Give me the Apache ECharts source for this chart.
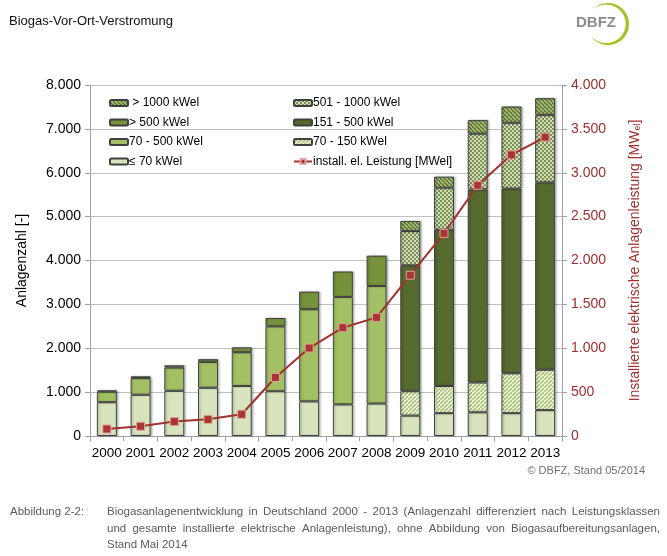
<!DOCTYPE html>
<html>
<head>
<meta charset="utf-8">
<script src="https://cdn.jsdelivr.net/npm/echarts@6/dist/echarts.min.js"></script>
<style>
html,body{margin:0;padding:0;background:#fff;}
#chart{width:667px;height:556px;}
</style>
</head>
<body>
<div id="chart"></div>
<script>
// ---- data ----
const years = ['2000','2001','2002','2003','2004','2005','2006','2007','2008','2009','2010','2011','2012','2013'];
const le70      = [770, 940, 1030, 1100, 1140, 1020, 790, 720, 740, 465, 520, 540, 520, 590];
const k70_500   = [240, 380, 530, 590, 770, 1480, 2100, 2450, 2680, '-', '-', '-', '-', '-'];
const gt500     = [30, 40, 50, 60, 110, 190, 400, 580, 690, '-', '-', '-', '-', '-'];
const k70_150   = ['-', '-', '-', '-', '-', '-', '-', '-', '-', 555, 620, 680, 910, 920];
const k151_500  = ['-', '-', '-', '-', '-', '-', '-', '-', '-', 2870, 3560, 4400, 4210, 4270];
const k501_1000 = ['-', '-', '-', '-', '-', '-', '-', '-', '-', 780, 960, 1270, 1500, 1540];
const gt1000    = ['-', '-', '-', '-', '-', '-', '-', '-', '-', 230, 250, 310, 370, 380];
const leistung  = [80, 111, 164, 190, 248, 667, 1002, 1234, 1352, 1832, 2309, 2857, 3204, 3406];
const leftAxisMax = 8000, leftAxisInterval = 1000;
const rightAxisMax = 4000, rightAxisInterval = 500;

const names = {
  le70: '≤ 70 kWel', k70_500: '70 - 500 kWel', gt500: '> 500 kWel',
  k70_150: '70 - 150 kWel', k151_500: '151 - 500 kWel', k501_1000: '501 - 1000 kWel',
  gt1000: ' > 1000 kWel', line: 'install. el. Leistung [MWel]'
};

// ---- patterns ----
function stripes(bg, fg, dir, size, lw) {
  const c = document.createElement('canvas');
  c.width = c.height = size;
  const g = c.getContext('2d');
  g.fillStyle = bg; g.fillRect(0, 0, size, size);
  g.strokeStyle = fg; g.lineWidth = lw;
  for (let k = -1; k <= 1; k++) {
    g.beginPath();
    if (dir === '/') { g.moveTo(k * size, size); g.lineTo(k * size + size, 0); }
    else { g.moveTo(k * size, 0); g.lineTo(k * size + size, size); }
    g.stroke();
  }
  return c;
}
function checker(a, b) {
  const c = document.createElement('canvas');
  c.width = c.height = 4;
  const g = c.getContext('2d');
  g.fillStyle = a; g.fillRect(0, 0, 4, 4);
  g.fillStyle = b; g.fillRect(0, 0, 2, 2); g.fillRect(2, 2, 2, 2);
  return c;
}
const pat70_150 = { image: stripes('#ffffff', '#adc874', '/', 4, 1.8), repeat: 'repeat' };
const pat501_1000 = { image: checker('#d3dcbd', '#7c9250'), repeat: 'repeat' };
const pat1000 = { image: stripes('#5a6f2f', '#a8c07a', '\\', 4, 1.6), repeat: 'repeat' };

const fmt = v => String(v).replace(/\B(?=(\d{3})+(?!\d))/g, '.');
const FONT = '"Liberation Sans", Arial, sans-serif';
const RED = '#a0312f';

const barBase = {
  type: 'bar', stack: 'total', barWidth: 20,
  itemStyle: { borderColor: '#404040', borderWidth: 1,
    shadowColor: 'rgba(0,0,0,0.25)', shadowBlur: 2, shadowOffsetX: 1.5, shadowOffsetY: 0 },
  emphasis: { disabled: true }
};
function bar(name, data, color) {
  return Object.assign({}, barBase, { name, data,
    itemStyle: Object.assign({}, barBase.itemStyle, { color }) });
}

// ---- caption with justified lines ----
const measCtx = document.createElement('canvas').getContext('2d');
function justified(text, x0, x1, yc, size, color, justify) {
  const els = [];
  let fs = size;
  const words = text.split(' ');
  let widths, total;
  while (true) {
    measCtx.font = fs + 'px ' + FONT;
    widths = words.map(w => measCtx.measureText(w).width);
    total = widths.reduce((a, b) => a + b, 0);
    const minSpace = measCtx.measureText(' ').width * 0.8;
    if (!justify || total + minSpace * (words.length - 1) <= x1 - x0 || fs < 8) break;
    fs -= 0.25;
  }
  let gap = justify ? (x1 - x0 - total) / (words.length - 1) : measCtx.measureText(' ').width;
  let x = x0;
  words.forEach((w, i) => {
    els.push({ type: 'text', x: x, y: yc, style: { text: w, font: fs + 'px ' + FONT, fill: color, verticalAlign: 'middle' } });
    x += widths[i] + gap;
  });
  return els;
}
const capColor = '#5a5a5a';
const captionEls = []
  .concat([{ type: 'text', x: 10, y: 512, style: { text: 'Abbildung 2-2:', font: '11.5px ' + FONT, fill: capColor, verticalAlign: 'middle' } }])
  .concat(justified('Biogasanlagenentwicklung in Deutschland 2000 - 2013 (Anlagenzahl differenziert nach Leistungsklassen', 107, 660, 512, 11.5, capColor, true))
  .concat(justified('und gesamte installierte elektrische Anlagenleistung), ohne Abbildung von Biogasaufbereitungsanlagen,', 107, 660, 529, 11.5, capColor, true))
  .concat(justified('Stand Mai 2014', 107, 660, 545, 11.5, capColor, false));

// ---- logo crescent ----
const logoPts = [];
(function () {
  const cx = 608, cy = 24, r = 21, a0 = -131, a1 = 141, n = 40;
  for (let i = 0; i <= n; i++) {
    const a = (a0 + (a1 - a0) * i / n) * Math.PI / 180;
    logoPts.push([cx + r * Math.cos(a), cy + r * Math.sin(a)]);
  }
  for (let i = n; i >= 0; i--) {
    const t = i / n, a = (a0 + (a1 - a0) * t) * Math.PI / 180;
    const w = 0.3 + 3 * Math.sin(Math.PI * t);
    logoPts.push([cx + (r - w) * Math.cos(a), cy + (r - w) * Math.sin(a)]);
  }
})();

const chart = echarts.init(document.getElementById('chart'), null, { renderer: 'canvas' });
const legendText = { fontFamily: FONT, fontSize: 12, color: '#000', lineHeight: 16, padding: [0, 0, 0, -4] };
chart.setOption({
  animation: false,
  backgroundColor: '#ffffff',
  textStyle: { fontFamily: FONT },
  grid: { left: 90, right: 105, top: 85, bottom: 120, containLabel: false },
  legend: [
    { orient: 'vertical', left: 104, top: 90, itemWidth: 18, itemHeight: 6, itemGap: 3.5,
      textStyle: legendText, selectedMode: false,
      data: [names.gt1000, names.gt500, names.k70_500, names.le70] },
    { orient: 'vertical', left: 288, top: 90, itemWidth: 18, itemHeight: 6, itemGap: 3.5,
      textStyle: legendText, selectedMode: false,
      data: [names.k501_1000, names.k151_500, names.k70_150, names.line] }
  ],
  xAxis: {
    type: 'category', data: years,
    axisLine: { lineStyle: { color: '#a0a0a0' } },
    axisTick: { show: true, length: 5, lineStyle: { color: '#a0a0a0' } },
    axisLabel: { color: '#000', fontSize: 13.5, margin: 10, interval: 0 }
  },
  yAxis: [
    { type: 'value', min: 0, max: leftAxisMax, interval: leftAxisInterval,
      name: 'Anlagenzahl [-]', nameLocation: 'middle', nameGap: 61, nameRotate: 90,
      nameTextStyle: { color: '#000', fontSize: 14 },
      axisLine: { show: true, lineStyle: { color: '#a0a0a0' } },
      axisTick: { show: true, length: 5, lineStyle: { color: '#a0a0a0' } },
      axisLabel: { color: '#000', fontSize: 14, margin: 9, formatter: fmt },
      splitLine: { lineStyle: { color: '#c0c0c0' } } },
    { type: 'value', min: 0, max: rightAxisMax, interval: rightAxisInterval, position: 'right',
      name: 'Installierte elektrische Anlagenleistung [MW{sub|el}]', nameLocation: 'middle', nameGap: 66, nameRotate: 90,
      nameTextStyle: { color: RED, fontSize: 14, rich: { sub: { fontSize: 9, color: RED, verticalAlign: 'bottom', lineHeight: 12 } } },
      axisLine: { show: true, lineStyle: { color: '#a0a0a0' } },
      axisTick: { show: true, length: 5, lineStyle: { color: '#a0a0a0' } },
      axisLabel: { color: RED, fontSize: 14, margin: 9, formatter: fmt },
      splitLine: { show: false } }
  ],
  series: [
    bar(names.le70, le70, '#d7e4bd'),
    bar(names.k70_500, k70_500, '#a3c064'),
    bar(names.gt500, gt500, '#76923b'),
    bar(names.k70_150, k70_150, pat70_150),
    bar(names.k151_500, k151_500, '#566a2e'),
    bar(names.k501_1000, k501_1000, pat501_1000),
    bar(names.gt1000, gt1000, pat1000),
    { name: names.line, type: 'line', yAxisIndex: 1, data: leistung, z: 5,
      symbol: 'rect', symbolSize: 8,
      lineStyle: { color: RED, width: 2 },
      itemStyle: { color: '#a83434', borderColor: '#e0a09f', borderWidth: 1 },
      emphasis: { disabled: true } }
  ],
  graphic: [
    { type: 'text', x: 9, y: 21, style: { text: 'Biogas-Vor-Ort-Verstromung', font: '13px ' + FONT, fill: '#111', verticalAlign: 'middle' } },
    { type: 'text', x: 576, y: 23, style: { text: 'DBFZ', font: 'bold 15px ' + FONT, fill: '#8c8c8c', verticalAlign: 'middle' } },
    { type: 'polygon', shape: { points: logoPts }, style: { fill: '#9dc41f' } },
    { type: 'text', x: 645, y: 471, style: { text: '© DBFZ, Stand 05/2014', font: '11px ' + FONT, fill: '#707070', align: 'right', verticalAlign: 'middle' } }
  ].concat(captionEls)
});
</script>
</body>
</html>
